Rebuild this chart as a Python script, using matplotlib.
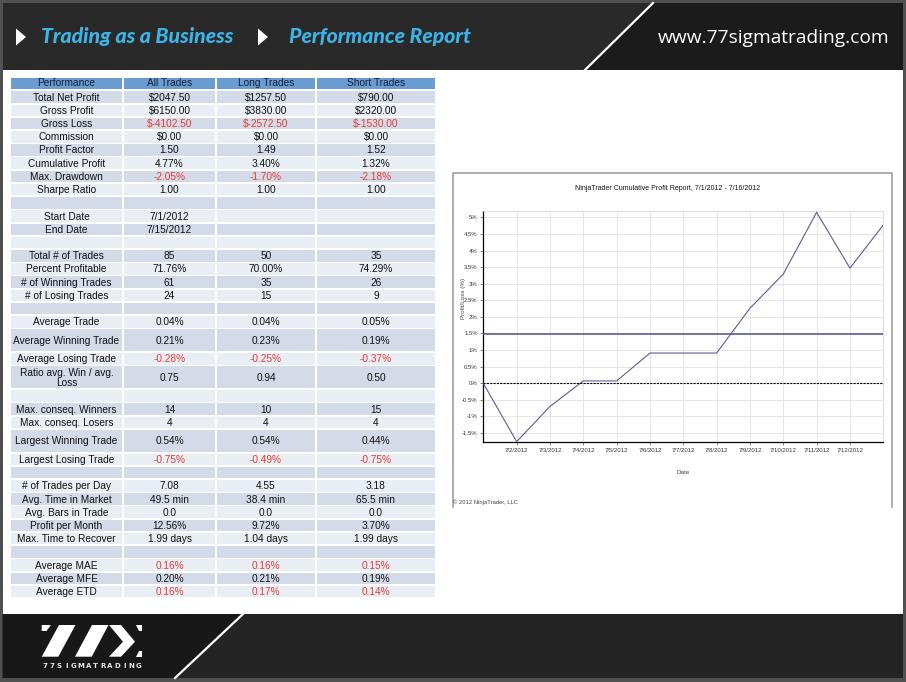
import numpy as np
import pandas as pd
import matplotlib
matplotlib.use('Agg')
import matplotlib.pyplot as plt
import matplotlib.dates as mdates
from matplotlib.patches import Rectangle, Polygon
from matplotlib.ticker import FuncFormatter, MultipleLocator

# ---- table data ----
row_labels = ['Total Net Profit', 'Gross Profit', 'Gross Loss', 'Commission', 'Profit Factor',
              'Cumulative Profit', 'Max. Drawdown', 'Sharpe Ratio', '',
              'Start Date', 'End Date', '',
              'Total # of Trades', 'Percent Profitable', '# of Winning Trades', '# of Losing Trades', '',
              'Average Trade', 'Average Winning Trade', 'Average Losing Trade',
              'Ratio avg. Win / avg.\nLoss', '',
              'Max. conseq. Winners', 'Max. conseq. Losers', 'Largest Winning Trade',
              'Largest Losing Trade', '',
              '# of Trades per Day', 'Avg. Time in Market', 'Avg. Bars in Trade', 'Profit per Month',
              'Max. Time to Recover', '',
              'Average MAE', 'Average MFE', 'Average ETD']
all_trades = ['$2047.50', '$6150.00', '$-4102.50', '$0.00', '1.50', '4.77%', '-2.05%', '1.00', '',
              '7/1/2012', '7/15/2012', '',
              '85', '71.76%', '61', '24', '',
              '0.04%', '0.21%', '-0.28%', '0.75', '',
              '14', '4', '0.54%', '-0.75%', '',
              '7.08', '49.5 min', '0.0', '12.56%', '1.99 days', '',
              '0.16%', '0.20%', '0.16%']
long_trades = ['$1257.50', '$3830.00', '$-2572.50', '$0.00', '1.49', '3.40%', '-1.70%', '1.00', '',
               '', '', '',
               '50', '70.00%', '35', '15', '',
               '0.04%', '0.23%', '-0.25%', '0.94', '',
               '10', '4', '0.54%', '-0.49%', '',
               '4.55', '38.4 min', '0.0', '9.72%', '1.04 days', '',
               '0.16%', '0.21%', '0.17%']
short_trades = ['$790.00', '$2320.00', '$-1530.00', '$0.00', '1.52', '1.32%', '-2.18%', '1.00', '',
                '', '', '',
                '35', '74.29%', '26', '9', '',
                '0.05%', '0.19%', '-0.37%', '0.50', '',
                '15', '4', '0.44%', '-0.75%', '',
                '3.18', '65.5 min', '0.0', '3.70%', '1.99 days', '',
                '0.15%', '0.19%', '0.14%']
header = ['Performance', 'All Trades', 'Long Trades', 'Short Trades']
red_rows = ['Gross Loss', 'Max. Drawdown', 'Average Losing Trade', 'Largest Losing Trade',
            'Average MAE', 'Average ETD']
tall_rows = ['Average Winning Trade', 'Ratio avg. Win / avg.\nLoss', 'Largest Winning Trade']

# ---- chart data ----
dates = pd.to_datetime(['2012-07-01', '2012-07-02', '2012-07-03', '2012-07-04', '2012-07-05',
                        '2012-07-06', '2012-07-07', '2012-07-08', '2012-07-09', '2012-07-10',
                        '2012-07-11', '2012-07-12', '2012-07-13'])
cum_profit = [0.0, -1.76, -0.70, 0.07, 0.07, 0.91, 0.91, 0.91, 2.26, 3.29, 5.15, 3.47, 4.77]
avg_level = 1.49

NARROW = ['Liberation Sans Narrow', 'Liberation Sans']

W, H = 906, 682
fig = plt.figure(figsize=(W / 100, H / 100), dpi=100)
fig.patch.set_facecolor('white')
bg = fig.add_axes([0, 0, 1, 1])
bg.set_xlim(0, W)
bg.set_ylim(H, 0)
bg.axis('off')

# frame / banner / footer
bg.add_patch(Rectangle((0, 0), W, H, facecolor='#505050', edgecolor='none', zorder=0))
bg.add_patch(Rectangle((2.5, 70), W - 5.5, 544, facecolor='white', edgecolor='none', zorder=1))
bg.add_patch(Rectangle((2.5, 3), W - 5.5, 67, facecolor='#292929', edgecolor='none', zorder=1))
bg.add_patch(Polygon([(653, 3), (W - 3, 3), (W - 3, 70), (585, 70)], closed=True,
                     facecolor='#1b1b1b', edgecolor='none', zorder=1))
bg.plot([653, 585], [3, 70], color='white', lw=1.6, zorder=2)
bg.add_patch(Rectangle((2.5, 614), W - 5.5, 64, facecolor='#242424', edgecolor='none', zorder=1))
bg.add_patch(Polygon([(2.5, 614), (243, 614), (175, 678), (2.5, 678)], closed=True,
                     facecolor='#181818', edgecolor='none', zorder=1))
bg.plot([243, 175], [614, 678], color='white', lw=1.6, zorder=2)

# header titles
for tx in [16, 258]:
    bg.add_patch(Polygon([(tx, 28.5), (tx, 45.5), (tx + 10, 37)], closed=True,
                         facecolor='white', edgecolor='none', zorder=3))
bg.text(41, 36, 'Trading as a Business', color='#3db4e6', fontsize=15.3, family='Lato',
        weight='black', style='italic', va='center', ha='left', zorder=3)
bg.text(289, 36, 'Performance Report', color='#3db4e6', fontsize=15.3, family='Lato',
        weight='black', style='italic', va='center', ha='left', zorder=3)
bg.text(889, 38, 'www.77sigmatrading.com', color='white', fontsize=13.8, family='Open Sans',
        va='center', ha='right', zorder=3)

# footer logo
logo = [
    [(41.7, 625), (51, 625), (46.5, 631), (41.7, 631)],
    [(59, 625), (75.5, 625), (58.3, 656.7), (41.7, 656.7)],
    [(92, 625), (108.5, 625), (91.7, 656.7), (75, 656.7)],
    [(109, 625), (121, 625), (135, 641.7), (121, 656.7), (109, 656.7), (123, 641.7)],
    [(135.5, 625), (141.7, 625), (141.7, 631), (138.5, 631)],
    [(138.5, 651), (141.7, 651), (141.7, 656.7), (135.5, 656.7)],
]
for pts in logo:
    bg.add_patch(Polygon(pts, closed=True, facecolor='white', edgecolor='none', zorder=3))
for ch, lx in zip('77SIGMATRADING', np.linspace(45, 139, 14)):
    bg.text(lx, 665.5, ch, color='#e6e6e6', fontsize=5.0, weight='bold', family='DejaVu Sans',
            ha='center', va='center', zorder=3)

# ---- table ----
col_edges = [10, 123, 216, 316, 436]
tfont = dict(family='Liberation Sans', fontsize=7.3)
gap = 0.8
for c in range(4):
    x0, x1 = col_edges[c], col_edges[c + 1]
    bg.add_patch(Rectangle((x0 + gap, 78), x1 - x0 - 2 * gap, 10.5, facecolor='#6a9bd1',
                           edgecolor='none', zorder=2))
    bg.text((x0 + x1) / 2, 83.5, header[c], color='#10203a', ha='center', va='center',
            zorder=3, **tfont)

y = 90.5
for i, lab in enumerate(row_labels):
    h = 23.8 if lab in tall_rows else 13.22
    shade = '#d3dbe8' if i % 2 == 0 else '#e9edf4'
    vals = [lab, all_trades[i], long_trades[i], short_trades[i]]
    for c in range(4):
        x0, x1 = col_edges[c], col_edges[c + 1]
        bg.add_patch(Rectangle((x0 + gap, y + gap), x1 - x0 - 2 * gap, h - 2 * gap,
                               facecolor=shade, edgecolor='none', zorder=2))
        color = '#e53b33' if (c > 0 and lab in red_rows) else '#111111'
        bg.text((x0 + x1) / 2, y + h / 2 + 0.5, vals[c], color=color, ha='center', va='center',
                linespacing=0.95, zorder=3, **tfont)
    y += h

# ---- chart panel ----
bg.plot([452.5, 452.5, 892, 892], [507, 172.5, 172.5, 507], color='#a0a0a0', lw=1.2, zorder=2)
bg.text(668, 188, 'NinjaTrader Cumulative Profit Report, 7/1/2012 - 7/16/2012', color='#111111',
        fontsize=5.0, family=NARROW, ha='center', va='center', zorder=3)
bg.text(453, 502, '\u00a9 2012 NinjaTrader, LLC', color='#444444', fontsize=4.2,
        family=NARROW, ha='left', va='center', zorder=3)

ax = fig.add_axes([483.3 / W, 1 - 442.3 / H, 400 / W, 231.6 / H])
ax.plot(dates, cum_profit, color='#5b5b9f', lw=0.8, zorder=3)
ax.axhline(avg_level, color='#5b5b9f', lw=1.2, zorder=3)
ax.axhline(0, color='black', lw=0.8, ls=(0, (2, 1)), zorder=3)
ax.set_xlim(dates[0], dates[-1])
ax.set_ylim(-1.78, 5.2)
ax.xaxis.set_major_locator(mdates.DayLocator(bymonthday=range(2, 13)))
ax.xaxis.set_major_formatter(mdates.DateFormatter('%-m/%-d/%Y'))
ax.yaxis.set_major_locator(MultipleLocator(0.5))
ax.yaxis.set_major_formatter(FuncFormatter(lambda v, p: '{:g}%'.format(round(v, 2))))
ax.grid(True, color='#e2e2e2', lw=0.6)
ax.set_axisbelow(True)
for s in ['top', 'right']:
    ax.spines[s].set_color('#d8d8d8')
    ax.spines[s].set_linewidth(0.6)
for s in ['left', 'bottom']:
    ax.spines[s].set_color('black')
    ax.spines[s].set_linewidth(0.9)
ax.tick_params(length=2, width=0.5, pad=2, labelsize=4.3, labelcolor='#333333', color='#555555')
for lbl in ax.get_xticklabels() + ax.get_yticklabels():
    lbl.set_family(NARROW)
ax.set_xlabel('Date', fontsize=4.5, color='#444444', labelpad=12, family=NARROW)
ax.text(-0.05, 0.62, 'Profit/Loss (%)', transform=ax.transAxes, rotation=90, fontsize=4.5,
        color='#444444', ha='center', va='center', family=NARROW)

fig.savefig('out.png', dpi=100)
